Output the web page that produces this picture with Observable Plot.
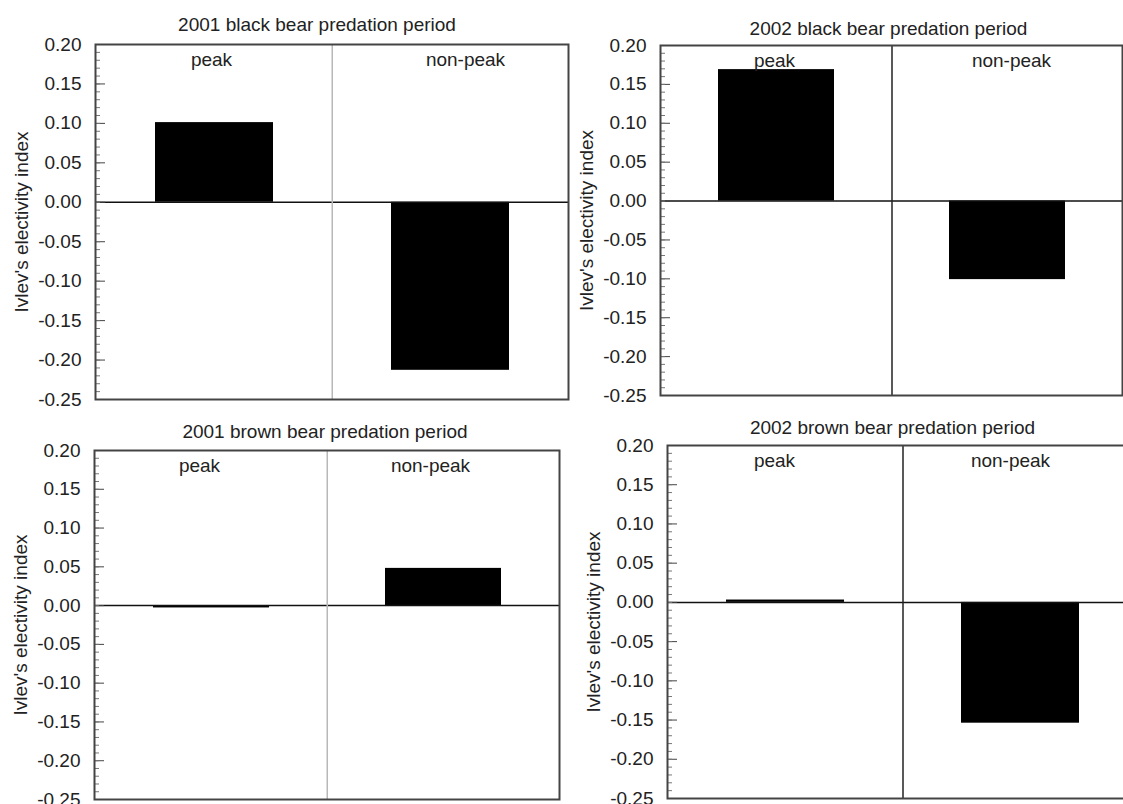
<!DOCTYPE html>
<html><head><meta charset="utf-8">
<script src="https://cdn.jsdelivr.net/npm/d3@7"></script>
<script src="https://cdn.jsdelivr.net/npm/@observablehq/plot@0.6"></script>
<style>
html,body{margin:0;padding:0;background:#fff;overflow:hidden}
#wrap{position:relative;width:1123px;height:804px;overflow:hidden;background:#fff}
#wrap > div{position:absolute}
</style></head><body><div id="wrap"></div>
<script>
const categories = ["peak", "non-peak"];
const titles = [
  "2001 black bear predation period",
  "2002 black bear predation period",
  "2001 brown bear predation period",
  "2002 brown bear predation period"
];
const black2001 = [0.101, -0.213];
const black2002 = [0.169, -0.101];
const brown2001 = [-0.003, 0.048];
const brown2002 = [0.003, -0.154];
const yLabel = "Ivlev's electivity index";
const majorTicks = [-0.25, -0.20, -0.15, -0.10, -0.05, 0, 0.05, 0.10, 0.15, 0.20];
const minorTicks = d3.range(-25, 21).map(i => i / 100);
const yDomain = [-0.25, 0.20];

const series = [black2001, black2002, brown2001, brown2002];
// layout only (positions / margins / styles)
const layout = [
  {left: 0,   top: 0,   width: 572, height: 402, ml: 95, mt: 44, mr: 4,  mb: 3, divider: "#b8b8b8", tdx: -15, tdy: -20, ldx: [-3, 15]},
  {left: 572, top: 0,   width: 551, height: 400, ml: 88, mt: 45, mr: 1,  mb: 5, divider: "#222",    tdx: -3,  tdy: -17, ldx: [-2, 4]},
  {left: 0,   top: 402, width: 572, height: 402, ml: 94, mt: 48, mr: 13, mb: 5, divider: "#b8b8b8", tdx: -2,  tdy: -19, ldx: [-12, -13]},
  {left: 572, top: 400, width: 570, height: 404, ml: 95, mt: 45, mr: 5,  mb: 6, divider: "#222",    tdx: -10, tdy: -18, ldx: [-11, -10]}
];

const wrap = document.getElementById("wrap");
series.forEach((vals, k) => {
  const L = layout[k];
  const rows = categories.map((c, i) => ({period: c, value: vals[i]}));
  const W = L.width - L.ml - L.mr;
  const chart = Plot.plot({
    width: L.width, height: L.height,
    marginLeft: L.ml, marginTop: L.mt, marginRight: L.mr, marginBottom: L.mb,
    style: {background: "transparent", maxWidth: "none", overflow: "visible",
            fontFamily: "'Liberation Sans', Arial, sans-serif", fontSize: "19px", color: "#222"},
    x: {domain: categories, paddingInner: 0.5, paddingOuter: 0.25, axis: null},
    y: {domain: yDomain},
    marks: [
      Plot.barY(rows, {x: "period", y: "value", fill: "black"}),
      Plot.ruleY([0], {stroke: "#111", strokeWidth: 1.5}),
      Plot.ruleX([categories[1]], {x: d => d, dx: -W / 4, stroke: L.divider, strokeWidth: 1.5}),
      ...categories.map((c, i) => Plot.text([c], {x: d => d, text: d => d, frameAnchor: "top", lineAnchor: "middle", dy: 15, dx: L.ldx[i], fill: "#222"})),
      Plot.text([titles[k]], {text: d => d, frameAnchor: "top", lineAnchor: "middle", dy: L.tdy, dx: L.tdx, fill: "#222"}),
      Plot.axisY(majorTicks, {tickSize: 0, tickPadding: 14, tickFormat: d => d.toFixed(2), label: yLabel,
                              labelAnchor: "center", labelOffset: 81, labelArrow: "none", fill: "#222"}),
      Plot.axisY(majorTicks, {tickSize: -10, tickFormat: () => "", label: null, stroke: "#444"}),
      Plot.axisY(minorTicks, {tickSize: -5, tickFormat: () => "", label: null, stroke: "#777"}),
      Plot.frame({stroke: "#444", strokeWidth: 2})
    ]
  });
  const div = document.createElement("div");
  div.style.left = L.left + "px";
  div.style.top = L.top + "px";
  div.appendChild(chart);
  wrap.appendChild(div);
});
</script>
</body></html>
